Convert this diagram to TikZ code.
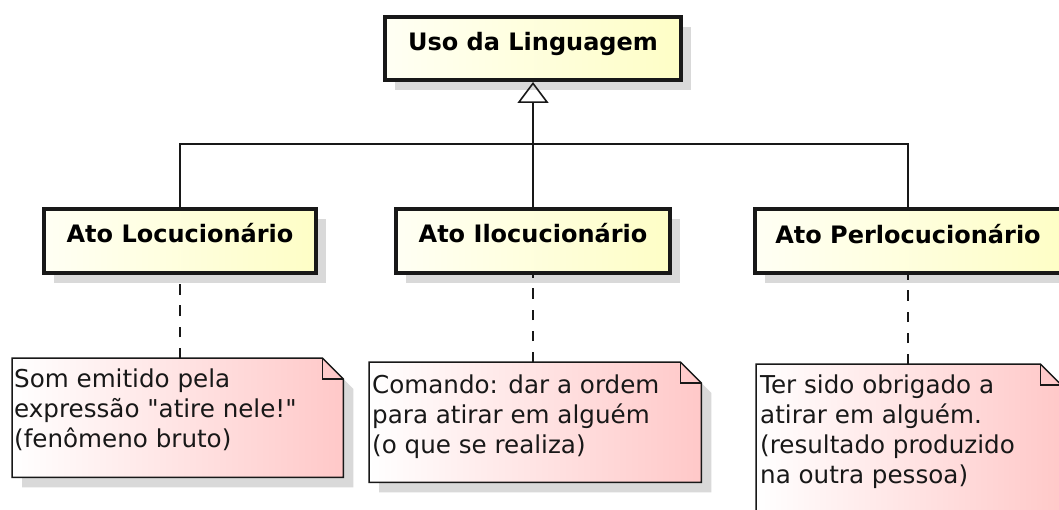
\documentclass[tikz,border=0pt]{standalone}
\usepackage{fontspec}
\setmainfont{DejaVu Sans}[Ligatures=TeXOff]
\usetikzlibrary{arrows.meta,shadows}
\definecolor{clsL}{HTML}{FFFFF4}
\definecolor{clsR}{HTML}{FEFEC6}
\definecolor{noteR}{HTML}{FFC8C8}
\definecolor{shad}{HTML}{D9D9D9}
\definecolor{ink}{HTML}{181818}
\begin{document}
\begin{tikzpicture}[x=1pt,y=-1pt,
  cls/.style={draw=ink, line width=4pt, left color=clsL, right color=clsR,
    font=\bfseries\fontsize{24}{30}\selectfont, inner sep=0pt,
    text height=10pt, text depth=6pt, minimum height=64pt,
    drop shadow={shadow xshift=10pt, shadow yshift=-10pt, fill=shad, opacity=1}},
  notebox/.style={draw=none, inner sep=0pt, anchor=north west},
  notefill/.style={left color=white, right color=noteR},
  noteline/.style={draw=ink, line width=1.5pt, line join=miter},
  notetext/.style={font=\fontsize{24.6}{30}\selectfont, align=left, inner sep=0pt, anchor=north west, text=ink},
  conn/.style={draw=ink, line width=1.6pt},
  dconn/.style={draw=ink, line width=1.6pt, dash pattern=on 10.5pt off 10.5pt},
]
\useasboundingbox (0,0) rectangle (1059,510);
\clip (0,0) rectangle (1059,510);
\fill[white] (0,0) rectangle (1059,510);

% class boxes
\node[cls, minimum width=296pt, minimum height=63pt] (top) at (533,48.5) {Uso da Linguagem};
\node[cls, minimum width=272pt] (loc) at (180,241) {Ato Locucionário};
\node[cls, minimum width=274pt] (ilo) at (533,241) {Ato Ilocucionário};
\node[cls, minimum width=306pt] (per) at (908,241.5) {Ato Perlocucionário};

% notes (frames)
\node[notebox, minimum width=331pt, minimum height=119pt] (n1) at (12,358) {};
\node[notebox, minimum width=332pt, minimum height=120pt] (n2) at (369,362) {};
\node[notebox, minimum width=305pt, minimum height=170pt] (n3) at (756,364) {};

\foreach \n in {n1,n2,n3}{
  \fill[shad] ([shift={(10,10)}]\n.north west) -- ([shift={(-11,10)}]\n.north east)
     -- ([shift={(10,31)}]\n.north east) -- ([shift={(10,10)}]\n.south east)
     -- ([shift={(10,10)}]\n.south west) -- cycle;
  \shade[notefill] (\n.north west) -- ([shift={(-21,0)}]\n.north east)
     -- ([shift={(0,21)}]\n.north east) -- (\n.south east) -- (\n.south west) -- cycle;
  \draw[noteline] (\n.north west) -- ([shift={(-21,0)}]\n.north east)
     -- ([shift={(0,21)}]\n.north east) -- (\n.south east) -- (\n.south west) -- cycle;
  \draw[noteline] ([shift={(-21,0)}]\n.north east) |- ([shift={(0,21)}]\n.north east);
}

\node[notetext] (t1) at ([shift={(2,11)}]n1.north west) {Som emitido pela\\expressão "atire nele!"\\(fenômeno bruto)};
\node[notetext] (t2) at ([shift={(3,13)}]n2.north west) {Comando: dar a ordem\\para atirar em alguém\\(o que se realiza)};
\node[notetext] (t3) at ([shift={(4,11)}]n3.north west) {Ter sido obrigado a\\atirar em alguém.\\(resultado produzido\\na outra pessoa)};

% generalization
\coordinate (j) at (533,144);
\draw[conn] (loc.north) |- (j);
\draw[conn] (per.north) |- (j);
\draw[conn] (ilo.north) -- (j);
\draw[conn, -{Triangle[open, length=21pt, width=31pt, line width=1.6pt]}] (j) -- (top.south);

% note links (drawn from the note up, so the dash phase matches)
\draw[dconn] (loc.south |- n1.north) -- (loc.south);
\draw[dconn] (ilo.south |- n2.north) -- (ilo.south);
\draw[dconn] (per.south |- n3.north) -- (per.south);
\end{tikzpicture}
\end{document}
